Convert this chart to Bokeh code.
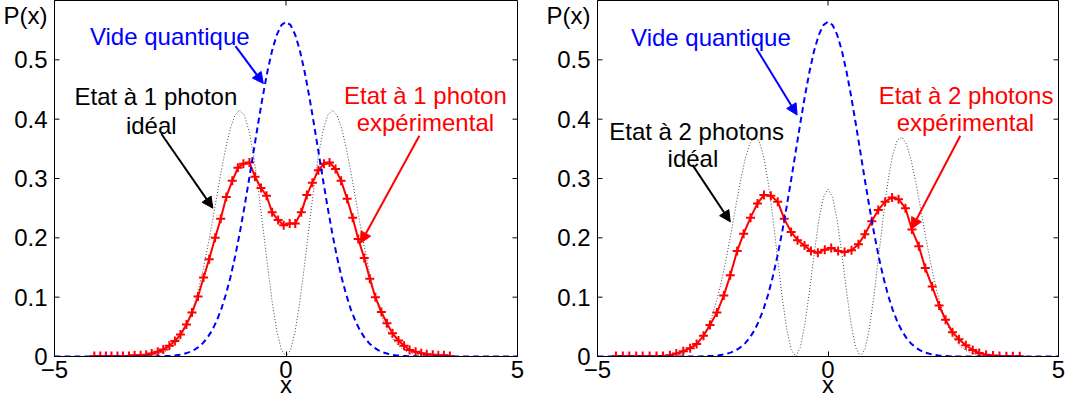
import math
from bokeh.plotting import figure
from bokeh.models import (Range1d, LinearAxis, FixedTicker, Label, Arrow,
                          NormalHead, CustomJSTickFormatter)
from bokeh.layouts import row
from bokeh.embed import file_html
from bokeh.resources import INLINE

# ---------------- data ----------------
x_theory = [-5.0, -4.0, -3.9, -3.8, -3.7, -3.6, -3.5, -3.4, -3.3, -3.2, -3.1, -3.0,
            -2.9, -2.8, -2.7, -2.6, -2.5, -2.4, -2.3, -2.2, -2.1, -2.0,
            -1.9, -1.8, -1.7, -1.6, -1.5, -1.4, -1.3, -1.2, -1.1, -1.0,
            -0.9, -0.8, -0.7, -0.6, -0.5, -0.4, -0.3, -0.2, -0.1, 0.0,
            0.1, 0.2, 0.3, 0.4, 0.5, 0.6, 0.7, 0.8, 0.9, 1.0,
            1.1, 1.2, 1.3, 1.4, 1.5, 1.6, 1.7, 1.8, 1.9, 2.0,
            2.1, 2.2, 2.3, 2.4, 2.5, 2.6, 2.7, 2.8, 2.9, 3.0,
            3.1, 3.2, 3.3, 3.4, 3.5, 3.6, 3.7, 3.8, 3.9, 4.0, 5.0]

vacuum = [0, 0,
          0, 0, 0, 0, 0, 0, 0, 0, 0, 0.0001,
          0.0001, 0.0002, 0.0004, 0.0007, 0.0011, 0.0018, 0.0028, 0.0045, 0.0069, 0.0103,
          0.0153, 0.0221, 0.0314, 0.0436, 0.0595, 0.0795, 0.1041, 0.1337, 0.1682, 0.2076,
          0.2510, 0.2975, 0.3456, 0.3936, 0.4394, 0.4808, 0.5156, 0.5421, 0.5586, 0.5642,
          0.5586, 0.5421, 0.5156, 0.4808, 0.4394, 0.3936, 0.3456, 0.2975, 0.2510, 0.2076,
          0.1682, 0.1337, 0.1041, 0.0795, 0.0595, 0.0436, 0.0314, 0.0221, 0.0153, 0.0103,
          0.0069, 0.0045, 0.0028, 0.0018, 0.0011, 0.0007, 0.0004, 0.0002, 0.0001, 0.0001,
          0, 0, 0, 0, 0, 0, 0, 0, 0, 0, 0]

one_photon_ideal = [0, 0,
                    0, 0, 0, 0, 0, 0.0001, 0.0002, 0.0004, 0.0007, 0.0013,
                    0.0021, 0.0034, 0.0056, 0.0088, 0.0136, 0.0205, 0.0301, 0.0432, 0.0605, 0.0827,
                    0.1102, 0.1432, 0.1813, 0.2233, 0.2676, 0.3115, 0.3519, 0.3851, 0.4070, 0.4151,
                    0.4066, 0.3808, 0.3387, 0.2834, 0.2197, 0.1539, 0.0928, 0.0434, 0.0112, 0.0,
                    0.0112, 0.0434, 0.0928, 0.1539, 0.2197, 0.2834, 0.3387, 0.3808, 0.4066, 0.4151,
                    0.4070, 0.3851, 0.3519, 0.3115, 0.2676, 0.2233, 0.1813, 0.1432, 0.1102, 0.0827,
                    0.0605, 0.0432, 0.0301, 0.0205, 0.0136, 0.0088, 0.0056, 0.0034, 0.0021, 0.0013,
                    0.0007, 0.0004, 0.0002, 0.0001, 0, 0, 0, 0, 0, 0, 0]

two_photon_ideal = [0, 0,
                    0, 0.0001, 0.0002, 0.0004, 0.0007, 0.0013, 0.0023, 0.0038, 0.0063, 0.0100,
                    0.0155, 0.0237, 0.0354, 0.0513, 0.0720, 0.0983, 0.1305, 0.1681, 0.2098, 0.2533,
                    0.2952, 0.3317, 0.3583, 0.3701, 0.3643, 0.3388, 0.2948, 0.2363, 0.1696, 0.1038,
                    0.0482, 0.0117, 0.0001, 0.0154, 0.0549, 0.1112, 0.1733, 0.2294, 0.2682, 0.2821,
                    0.2682, 0.2294, 0.1733, 0.1112, 0.0549, 0.0154, 0.0001, 0.0117, 0.0482, 0.1038,
                    0.1696, 0.2363, 0.2948, 0.3388, 0.3643, 0.3701, 0.3583, 0.3317, 0.2952, 0.2533,
                    0.2098, 0.1681, 0.1305, 0.0983, 0.0720, 0.0513, 0.0354, 0.0237, 0.0155, 0.0100,
                    0.0063, 0.0038, 0.0023, 0.0013, 0.0007, 0.0004, 0.0002, 0.0001, 0, 0, 0]

x_exp1 = [-4.14, -4.01, -3.89, -3.77, -3.64, -3.52, -3.39, -3.27, -3.14, -3.02,
          -2.90, -2.77, -2.65, -2.52, -2.40, -2.28, -2.15, -2.03, -1.90, -1.78,
          -1.66, -1.53, -1.41, -1.29, -1.16, -1.04, -0.92, -0.79, -0.67, -0.54,
          -0.42, -0.30, -0.17, -0.05, 0.08, 0.20, 0.33, 0.45, 0.57, 0.70,
          0.82, 0.94, 1.07, 1.19, 1.32, 1.44, 1.56, 1.69, 1.81, 1.93,
          2.06, 2.18, 2.30, 2.43, 2.55, 2.67, 2.80, 2.92, 3.04, 3.17,
          3.29, 3.41, 3.54]
y_exp1 = [0.001, 0.001, 0.001, 0.001, 0.001, 0.001, 0.001, 0.002, 0.002, 0.003,
          0.005, 0.008, 0.012, 0.018, 0.026, 0.037, 0.054, 0.074, 0.101, 0.133,
          0.164, 0.200, 0.232, 0.269, 0.296, 0.318, 0.325, 0.327, 0.303, 0.284,
          0.271, 0.243, 0.230, 0.221, 0.224, 0.224, 0.243, 0.272, 0.293, 0.314,
          0.325, 0.327, 0.316, 0.296, 0.266, 0.234, 0.198, 0.166, 0.131, 0.100,
          0.075, 0.056, 0.039, 0.027, 0.018, 0.011, 0.008, 0.0055, 0.004, 0.003,
          0.002, 0.002, 0.001]

x_exp2 = [-4.60, -4.45, -4.31, -4.16, -4.02, -3.87, -3.72, -3.58, -3.43, -3.29,
          -3.14, -2.99, -2.85, -2.70, -2.56, -2.41, -2.26, -2.12, -1.97, -1.83,
          -1.68, -1.53, -1.39, -1.24, -1.09, -0.95, -0.80, -0.66, -0.51, -0.37,
          -0.22, -0.07, 0.07, 0.22, 0.36, 0.51, 0.66, 0.80, 0.95, 1.09,
          1.24, 1.39, 1.53, 1.68, 1.82, 1.97, 2.11, 2.26, 2.41, 2.55,
          2.70, 2.84, 2.99, 3.14, 3.28, 3.43, 3.58, 3.72, 3.87, 4.01, 4.16]
y_exp2 = [0.001, 0.001, 0.001, 0.001, 0.001, 0.001, 0.001, 0.001, 0.002, 0.005,
          0.009, 0.014, 0.021, 0.035, 0.053, 0.074, 0.103, 0.137, 0.178, 0.207,
          0.234, 0.258, 0.272, 0.271, 0.261, 0.232, 0.210, 0.196, 0.187, 0.178,
          0.175, 0.180, 0.183, 0.178, 0.176, 0.179, 0.189, 0.206, 0.228, 0.247,
          0.261, 0.268, 0.265, 0.250, 0.214, 0.186, 0.149, 0.118, 0.086, 0.062,
          0.041, 0.029, 0.019, 0.011, 0.006, 0.003, 0.0015, 0.001, 0.0005, 0.0005, 0.0005]

x_ticks = [-5, 0, 5]
y_ticks = [0, 0.1, 0.2, 0.3, 0.4, 0.5]
y_name_pos = 0.575          # where the "P(x)" name sits, next to the y axis
y_name = "P(x)"
x_name = "x"

FONT = "Liberation Sans"
FS = "24px"
BLUE = "#0000ff"
RED = "#ff0000"
TICK = 5


def make_fig(width, bl, br):
    p = figure(width=width, height=400, x_range=Range1d(-5, 5), y_range=Range1d(0, 0.6),
               output_backend="svg", toolbar_location=None,
               x_axis_location=None, y_axis_location=None,
               min_border_left=bl, min_border_right=br, min_border_top=0, min_border_bottom=10)
    p.background_fill_color = "white"
    p.border_fill_color = "white"
    p.grid.visible = False
    p.outline_line_color = "black"
    p.outline_line_width = 1

    xa = LinearAxis(ticker=FixedTicker(ticks=x_ticks),
                    formatter=CustomJSTickFormatter(code="return tick < 0 ? '\u2212' + (-tick) : '' + tick;"),
                    major_tick_in=TICK, major_tick_out=0, minor_tick_in=0, minor_tick_out=0,
                    minor_tick_line_color=None,
                    axis_line_color="black", major_tick_line_color="black",
                    major_label_text_font=FONT, major_label_text_font_size=FS,
                    major_label_text_color="black", major_label_standoff=4,
                    axis_label=x_name, axis_label_text_font=FONT, axis_label_text_font_size=FS,
                    axis_label_text_font_style="normal", axis_label_text_color="black",
                    axis_label_standoff=-10)
    p.add_layout(xa, "below")

    ya = LinearAxis(ticker=FixedTicker(ticks=y_ticks + [y_name_pos]),
                    formatter=CustomJSTickFormatter(
                        args=dict(name=y_name, pos=y_name_pos),
                        code="if (Math.abs(tick - pos) < 1e-6) { return name; } return tick === 0 ? '0' : tick.toFixed(1);"),
                    major_tick_in=0, major_tick_out=0, minor_tick_in=0, minor_tick_out=0,
                    major_tick_line_color=None, minor_tick_line_color=None,
                    axis_line_color="black", axis_label_standoff=0,
                    major_label_text_font=FONT, major_label_text_font_size=FS,
                    major_label_text_color="black", major_label_standoff=7)
    p.add_layout(ya, "left")

    # inward ticks on the left, right and top borders of the box
    n = len(y_ticks)
    p.ray(x=[-5] * n, y=y_ticks, length=TICK, length_units="screen", angle=0,
          line_color="black", line_width=1)
    p.ray(x=[5] * n, y=y_ticks, length=TICK, length_units="screen", angle=math.pi,
          line_color="black", line_width=1)
    m = len(x_ticks)
    p.ray(x=x_ticks, y=[0.6] * m, length=TICK, length_units="screen", angle=-math.pi / 2,
          line_color="black", line_width=1)
    return p


def label(p, x, y, text, color):
    p.add_layout(Label(x=x, y=y, text=text, text_font=FONT, text_font_size=FS,
                       text_color=color, text_align="center", text_baseline="alphabetic"))


def arrow(p, xs, ys, xe, ye, color):
    p.add_layout(Arrow(end=NormalHead(size=11, fill_color=color, line_color=color, line_width=1),
                       x_start=xs, y_start=ys, x_end=xe, y_end=ye,
                       line_color=color, line_width=2))


def draw(p, ideal, xe, ye):
    p.line(x_theory, ideal, line_color="#444444", line_width=1, line_dash="1 2")
    p.line(xe, ye, line_color=RED, line_width=2)
    p.scatter(xe, ye, marker="cross", size=9, line_color=RED, line_width=2)
    p.line(x_theory, vacuum, line_color=BLUE, line_width=2, line_dash="6 4")


# ---- left panel ----
p1 = make_fig(543, 54, 26)
draw(p1, one_photon_ideal, x_exp1, y_exp1)
label(p1, -2.51, 0.539, "Vide quantique", BLUE)
label(p1, -2.81, 0.4375, "Etat à 1 photon", "black")
label(p1, -2.91, 0.390, "idéal", "black")
label(p1, 3.01, 0.4396, "Etat à 1 photon", RED)
label(p1, 3.01, 0.395, "expérimental", RED)
arrow(p1, -1.09, 0.523, -0.49, 0.460, BLUE)
arrow(p1, -2.69, 0.375, -1.58, 0.250, "black")
arrow(p1, 2.88, 0.372, 1.61, 0.191, RED)

# ---- right panel ----
p2 = make_fig(524, 51, 9)
draw(p2, two_photon_ideal, x_exp2, y_exp2)
label(p2, -2.54, 0.538, "Vide quantique", BLUE)
label(p2, -2.85, 0.380, "Etat à 2 photons", "black")
label(p2, -2.93, 0.334, "idéal", "black")
label(p2, 2.995, 0.4396, "Etat à 2 photons", RED)
label(p2, 2.98, 0.395, "expérimental", RED)
arrow(p2, -1.56, 0.520, -0.67, 0.407, BLUE)
arrow(p2, -2.94, 0.323, -2.12, 0.227, "black")
arrow(p2, 2.87, 0.372, 1.81, 0.215, RED)

layout = row(p1, p2)
open("out.html", "w").write(file_html(layout, INLINE))
